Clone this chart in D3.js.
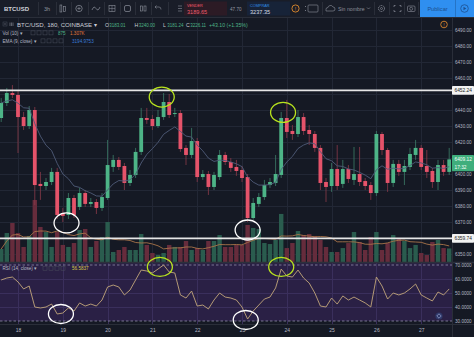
<!DOCTYPE html>
<html><head><meta charset="utf-8">
<script src="https://cdn.jsdelivr.net/npm/d3@7"></script>
<style>
html,body{margin:0;padding:0;background:#151924;overflow:hidden;}
svg{display:block;font-family:"Liberation Sans",Arial,sans-serif;}
</style></head><body>
<svg id="c" width="474" height="337"></svg>
<script>
// ---------- DATA (BTC/USD, 180 min, COINBASE) ----------
const startTime = new Date(2018, 9, 17, 15, 0);
const barHours = 3;
const openP = [6435.0,6444.4,6450.6,6449.4,6435.6,6430.0,6440.0,6393.8,6392.5,6395.0,
 6401.3,6375.6,6374.4,6385.0,6379.4,6388.1,6381.3,6382.5,6378.8,6385.0,
 6404.4,6408.8,6405.0,6394.4,6399.4,6413.8,6435.0,6434.4,6430.0,6435.6,
 6445.0,6437.5,6438.1,6416.3,6411.9,6420.6,6398.1,6400.0,6391.9,6398.1,
 6411.9,6407.5,6404.4,6402.5,6398.1,6372.5,6381.3,6385.6,6393.1,6394.4,
 6399.4,6435.0,6426.9,6425.0,6435.6,6427.5,6425.0,6416.3,6395.0,6392.5,
 6403.1,6393.8,6403.1,6396.3,6400.0,6395.6,6393.1,6388.1,6425.0,6415.0,
 6394.4,6406.3,6401.3,6404.4,6411.9,6416.3,6405.0,6401.9,6395.0,6405.6,
 6401.3];
const highP = [6447.5,6453.8,6455.6,6452.5,6438.8,6442.5,6441.9,6401.3,6397.5,6403.8,
 6403.8,6378.8,6388.1,6386.9,6391.3,6390.0,6385.0,6384.4,6388.1,6421.3,
 6411.9,6410.6,6406.9,6402.5,6416.3,6441.3,6441.3,6436.9,6440.0,6450.6,
 6450.0,6441.3,6440.0,6418.1,6428.8,6422.5,6402.5,6401.9,6401.3,6415.0,
 6413.8,6410.0,6408.8,6405.0,6400.0,6385.0,6388.1,6396.3,6397.5,6411.9,
 6438.8,6446.3,6430.6,6440.0,6438.1,6430.6,6426.9,6418.1,6397.5,6406.9,
 6418.1,6408.8,6405.6,6416.9,6416.9,6397.5,6395.0,6426.9,6426.3,6416.3,
 6408.8,6408.8,6408.8,6416.3,6421.3,6418.1,6415.0,6403.8,6408.8,6408.8,
 6416.3];
const lowP = [6432.5,6442.5,6447.5,6413.1,6427.5,6428.1,6380.6,6383.8,6390.0,6393.1,
 6371.9,6370.0,6371.9,6372.5,6377.5,6379.4,6379.4,6375.0,6376.9,6383.8,
 6401.3,6402.5,6390.0,6392.5,6397.5,6411.9,6431.3,6427.5,6428.8,6433.8,
 6435.0,6435.6,6413.8,6405.6,6410.0,6395.0,6396.3,6386.9,6390.0,6396.3,
 6405.6,6401.3,6398.8,6395.0,6370.0,6371.3,6379.4,6383.8,6391.3,6392.5,
 6397.5,6422.5,6421.3,6423.1,6424.4,6418.1,6413.8,6390.0,6382.5,6388.8,
 6390.0,6391.3,6394.4,6393.1,6392.5,6390.0,6383.8,6386.3,6411.9,6388.8,
 6391.9,6398.8,6393.1,6402.5,6408.8,6402.5,6397.5,6391.3,6390.0,6398.8,
 6399.4];
const closeP = [6444.4,6450.6,6449.4,6435.6,6430.0,6440.0,6393.1,6392.5,6395.0,6401.3,
 6374.4,6373.8,6385.0,6374.4,6388.1,6381.3,6382.5,6378.8,6385.6,6405.6,
 6408.8,6404.4,6394.4,6399.4,6413.8,6435.0,6433.8,6430.0,6435.6,6445.0,
 6436.9,6438.1,6415.6,6411.9,6420.6,6398.1,6400.0,6391.9,6399.4,6411.9,
 6407.5,6403.8,6401.9,6397.5,6372.5,6381.9,6385.6,6393.1,6395.0,6400.0,
 6435.0,6426.3,6425.0,6435.6,6426.9,6425.0,6416.3,6394.4,6391.9,6403.1,
 6392.5,6403.1,6396.9,6400.0,6395.0,6392.5,6388.1,6425.0,6415.0,6394.4,
 6406.3,6401.3,6405.0,6412.5,6416.3,6404.4,6401.3,6395.0,6405.6,6401.3,
 6409.12];
const volume = [840,1870,2515,1870,970,1680,4000,2260,1935,970,
 1935,1100,970,1225,2065,2130,970,1355,1610,2580,
 645,775,970,775,775,1805,1100,580,450,580,
 1100,970,970,1355,775,900,775,1355,1355,1740,
 970,970,1100,1100,2390,2195,2130,1225,1160,1420,
 3100,900,1225,2000,1740,1805,1680,1420,970,645,
 645,900,1225,1935,1290,775,1610,1935,775,1225,
 1740,1485,1355,900,1100,580,450,1290,1420,900,
 875];
const rsi = [59.3,60.7,61.4,57.9,52.9,55.0,40.0,39.3,40.0,42.1,
 35.0,35.7,39.3,37.1,42.9,40.7,42.1,40.7,45.0,54.3,
 55.7,54.3,48.6,52.1,59.3,66.4,65.7,64.3,67.1,70.0,
 65.0,64.3,48.6,46.4,51.4,40.7,41.4,38.6,45.0,50.0,
 47.1,46.4,45.0,40.0,31.4,37.1,41.4,45.7,47.1,53.6,
 67.1,62.1,61.4,66.4,60.7,57.1,50.0,40.7,40.0,46.4,
 42.1,47.9,45.0,47.1,45.0,42.9,40.0,61.4,55.0,45.7,
 50.0,48.6,50.0,52.9,56.4,48.6,46.4,44.3,50.7,48.6,
 52.9];
const priceGrid = [6490,6480,6470,6460,6450,6440,6430,6420,6410,6400,6390,6380,6370,6360,6350];
const priceTicks = [6490,6480,6470,6460,6440,6430,6420,6400,6390,6380,6370,6350];
const rsiTicks = [70,60,50,40,30];
const hLines = [6452.24, 6359.74];
const lastPrice = 6409.12, countdown = "17:32";
// hand-drawn ellipses: [bar index, value, colour]
const marksMain = [[28.7,6448.1,"#b8e31e"],[50.4,6438.5,"#b8e31e"],[11.8,6369.4,"#ffffff"],[44.2,6365.0,"#ffffff"]];
const marksRsi = [[28.6,68.6,"#b8e31e"],[50.3,68.6,"#b8e31e"],[10.9,35.0,"#ffffff"],[43.9,30.7,"#ffffff"]];

// ---------- SETUP ----------
const W=474,H=337, plotR=452, paneTop=17, paneBot=262, rsiBot=324;
const svg=d3.select("#c");
const times=openP.map((d,i)=>d3.timeHour.offset(startTime,i*barHours));
const x=d3.scaleTime().domain([times[0],times[times.length-1]]).range([1.2,449.2]);
const xi=i=>x(d3.timeHour.offset(startTime,i*barHours));
const y=d3.scaleLinear().domain([6350,6490]).range([254,30]);
const yv=d3.scaleLinear().domain([0,4000]).range([paneBot,200]);
const yr=d3.scaleLinear().domain([30,70]).range([321,265]);
const UP="#4db487", DN="#e5536a";

svg.append("rect").attr("width",W).attr("height",H).attr("fill","#151924");
const defs=svg.append("defs");
defs.append("clipPath").attr("id","cm").append("rect").attr("x",0).attr("y",paneTop).attr("width",plotR).attr("height",paneBot-paneTop);
defs.append("clipPath").attr("id","cr").append("rect").attr("x",0).attr("y",paneBot).attr("width",plotR).attr("height",rsiBot-paneBot);

// RSI band fill
svg.append("rect").attr("x",0).attr("y",paneBot+1).attr("width",plotR).attr("height",yr(30)-paneBot-1).attr("fill","#2a2045");

// grid
const grid=svg.append("g").attr("stroke","#222735").attr("stroke-width",1);
const days=d3.timeDay.range(d3.timeDay.ceil(times[0]),d3.timeDay.offset(d3.timeDay.floor(times[times.length-1]),1));
grid.selectAll("line.v").data(days).join("line").attr("x1",d=>Math.round(x(d))+0.5).attr("x2",d=>Math.round(x(d))+0.5).attr("y1",paneTop).attr("y2",paneBot);
grid.selectAll("line.h").data(priceGrid).join("line").attr("x1",0).attr("x2",plotR).attr("y1",d=>Math.round(y(d))+0.5).attr("y2",d=>Math.round(y(d))+0.5);
const rgrid=svg.append("g").attr("stroke","#3a2f5c").attr("stroke-width",1);
rgrid.selectAll("line").data(days).join("line").attr("x1",d=>Math.round(x(d))+0.5).attr("x2",d=>Math.round(x(d))+0.5).attr("y1",paneBot).attr("y2",rsiBot);
rgrid.selectAll("line.h").data([60,50,40]).join("line").attr("x1",0).attr("x2",plotR).attr("y1",d=>Math.round(yr(d))+0.5).attr("y2",d=>Math.round(yr(d))+0.5);

// main pane
const main=svg.append("g").attr("clip-path","url(#cm)");
main.selectAll("rect.vol").data(volume).join("rect")
  .attr("x",(d,i)=>xi(i)-2.2).attr("width",4.4)
  .attr("y",d=>yv(d)).attr("height",d=>paneBot-yv(d))
  .attr("fill",(d,i)=>closeP[i]>=openP[i]?"#2a5c4e":"#662c3c");
// volume MA(10)
const volMA=volume.map((d,i)=>d3.mean(volume.slice(Math.max(0,i-9),i+1)));
main.append("path").datum(volMA).attr("fill","none").attr("stroke","#a8744a").attr("stroke-width",0.9)
  .attr("d",d3.line().x((d,i)=>xi(i)).y(d=>yv(d)));
// EMA(9)
const ema=[]; const k=2/10;
closeP.forEach((c,i)=>ema.push(i===0?c:c*k+ema[i-1]*(1-k)));
// candles
const cg=main.append("g");
cg.selectAll("line").data(openP).join("line")
  .attr("x1",(d,i)=>xi(i)).attr("x2",(d,i)=>xi(i))
  .attr("y1",(d,i)=>y(highP[i])).attr("y2",(d,i)=>y(lowP[i]))
  .attr("stroke",(d,i)=>closeP[i]>=openP[i]?"#3e7d68":"#8c3a4a").attr("stroke-width",0.8);
cg.selectAll("rect").data(openP).join("rect")
  .attr("x",(d,i)=>xi(i)-1.9).attr("width",3.8)
  .attr("y",(d,i)=>y(Math.max(openP[i],closeP[i])))
  .attr("height",(d,i)=>Math.max(1,Math.abs(y(openP[i])-y(closeP[i]))))
  .attr("fill",(d,i)=>closeP[i]>=openP[i]?UP:DN);
main.append("path").datum(ema).attr("fill","none").attr("stroke","#4f5b78").attr("stroke-width",0.9)
  .attr("d",d3.line().x((d,i)=>xi(i)).y(d=>y(d)));
// horizontal lines
main.selectAll("line.hl").data(hLines).join("line").attr("x1",0).attr("x2",plotR)
  .attr("y1",d=>y(d)).attr("y2",d=>y(d)).attr("stroke","#e6e6e6").attr("stroke-width",1.8);
// alert icon
main.append("circle").attr("cx",444).attr("cy",24.5).attr("r",3.3).attr("fill","none").attr("stroke","#d5832e").attr("stroke-width",0.9);
main.append("text").attr("x",444).attr("y",26.6).attr("text-anchor","middle").attr("font-size",5).attr("fill","#d5832e").text("!");

// RSI pane
const rp=svg.append("g").attr("clip-path","url(#cr)");
rp.selectAll("line.d").data([70,30]).join("line").attr("x1",0).attr("x2",plotR)
  .attr("y1",d=>yr(d)).attr("y2",d=>yr(d)).attr("stroke","#8f8aa8").attr("stroke-width",0.8).attr("stroke-dasharray","2.5,2");
rp.append("path").datum(rsi).attr("fill","none").attr("stroke","#c2a67a").attr("stroke-width",0.9)
  .attr("d",d3.line().x((d,i)=>xi(i)).y(d=>yr(d)));
rp.append("circle").attr("cx",439).attr("cy",316).attr("r",3.6).attr("fill","#2e3768");
rp.append("path").attr("d","M439,313.8L441.2,316L439,318.2L436.8,316Z").attr("fill","none").attr("stroke","#aeb6e0").attr("stroke-width",0.6);

// separators
svg.append("line").attr("x1",0).attr("x2",W).attr("y1",paneBot+0.5).attr("y2",paneBot+0.5).attr("stroke","#2c303c").attr("stroke-width",1.5);
svg.append("line").attr("x1",0).attr("x2",W).attr("y1",rsiBot+0.5).attr("y2",rsiBot+0.5).attr("stroke","#2a2e39");
svg.append("line").attr("x1",plotR+0.5).attr("x2",plotR+0.5).attr("y1",paneTop).attr("y2",H).attr("stroke","#2a2e39");

// ellipses drawn on top, unclipped
const eg=svg.append("g").attr("fill","none").attr("stroke-width",1.3);
eg.selectAll("ellipse.m").data(marksMain).join("ellipse")
  .attr("cx",d=>xi(d[0])).attr("cy",d=>y(d[1])).attr("rx",12.5).attr("ry",10).attr("stroke",d=>d[2]);
eg.selectAll("ellipse.r").data(marksRsi).join("ellipse")
  .attr("cx",d=>xi(d[0])).attr("cy",d=>yr(d[1])).attr("rx",12.5).attr("ry",9.5).attr("stroke",d=>d[2]);

// axes
const pa=svg.append("g").attr("transform",`translate(${plotR+2},0)`)
  .call(d3.axisRight(y).tickValues(priceTicks).tickFormat(d3.format(".2f")).tickSize(0).tickPadding(1));
const ra=svg.append("g").attr("transform",`translate(${plotR+2},0)`)
  .call(d3.axisRight(yr).tickValues(rsiTicks).tickFormat(d3.format(".4f")).tickSize(0).tickPadding(1));
const xa=svg.append("g").attr("transform",`translate(0,${rsiBot})`)
  .call(d3.axisBottom(x).ticks(d3.timeDay.every(1)).tickFormat(d3.timeFormat("%d")).tickSize(0).tickPadding(4));
[pa,ra,xa].forEach(g=>{g.select(".domain").remove();g.attr("font-size",4.6).attr("font-family","Liberation Sans, Arial, sans-serif").style("color","#b4b8c4");});
xa.attr("font-size",5);

// price labels
function tag(v,bg,fg,txt,dy){
  const yy=y(v)+(dy||0);
  svg.append("rect").attr("x",plotR).attr("y",yy-4.3).attr("width",W-plotR).attr("height",8.6).attr("fill",bg).attr("rx",0.8);
  svg.append("text").attr("x",plotR+2.5).attr("y",yy+1.7).attr("font-size",4.8).attr("fill",fg).text(txt);
}
tag(hLines[0],"#f2f2f2","#222",d3.format(".2f")(hLines[0]));
tag(hLines[1],"#f2f2f2","#222",d3.format(".2f")(hLines[1]));
tag(lastPrice,"#3fae7c","#f4fff9",d3.format(".2f")(lastPrice));
tag(lastPrice,"#3fae7c","#f4fff9",countdown,7.6);

// ---------- TOOLBAR ----------
const tb=svg.append("g").attr("font-family","Liberation Sans, Arial, sans-serif");
tb.append("rect").attr("width",W).attr("height",paneTop).attr("fill","#191d28");
tb.append("line").attr("x1",0).attr("x2",W).attr("y1",paneTop+0.5).attr("y2",paneTop+0.5).attr("stroke","#2a2e39");
tb.append("text").attr("x",4).attr("y",10.8).attr("font-size",6).attr("font-weight","bold").attr("fill","#d1d4dc").text("BTCUSD");
[38,56,71,88,104,120,135,151,168].forEach(sx=>tb.append("line").attr("x1",sx+0.5).attr("x2",sx+0.5).attr("y1",2).attr("y2",15).attr("stroke","#2a2e39"));
const ic="#8d919c";
tb.append("text").attr("x",47).attr("y",10.5).attr("text-anchor","middle").attr("font-size",5.5).attr("fill",ic).text("3h");
tb.append("rect").attr("x",60).attr("y",5).attr("width",1.8).attr("height",7).attr("fill","none").attr("stroke",ic).attr("stroke-width",0.6);
tb.append("rect").attr("x",63.5).attr("y",6.5).attr("width",1.8).attr("height",5).attr("fill","none").attr("stroke",ic).attr("stroke-width",0.6);
tb.append("circle").attr("cx",79).attr("cy",8.5).attr("r",3.2).attr("fill","none").attr("stroke",ic).attr("stroke-width",0.7);
tb.append("path").attr("d","M77.3,8.5H80.7M79,6.8V10.2").attr("stroke",ic).attr("stroke-width",0.6);
tb.append("path").attr("d","M92,10 Q94,5 96,8.5 T100,7").attr("fill","none").attr("stroke",ic).attr("stroke-width",0.7);
tb.append("rect").attr("x",109).attr("y",5.5).attr("width",6).attr("height",6).attr("fill","none").attr("stroke",ic).attr("stroke-width",0.6);
tb.append("path").attr("d","M109,8.5H115M112,5.5V11.5").attr("stroke",ic).attr("stroke-width",0.5);
tb.append("rect").attr("x",124.5).attr("y",5.5).attr("width",6).attr("height",6).attr("rx",1.5).attr("fill","none").attr("stroke",ic).attr("stroke-width",0.7);
tb.append("rect").attr("x",140.5).attr("y",6).attr("width",2).attr("height",5).attr("fill","none").attr("stroke",ic).attr("stroke-width",0.6);
tb.append("rect").attr("x",144).attr("y",6).attr("width",2).attr("height",5).attr("fill","none").attr("stroke",ic).attr("stroke-width",0.6);
tb.append("path").attr("d","M155,7 H159 Q161,7 161,9.5 M155,7 L156.5,5.5 M155,7 L156.5,8.5").attr("fill","none").attr("stroke",ic).attr("stroke-width",0.6);
tb.append("path").attr("d","M178,6H182M178,8.5H182M178,11H182").attr("stroke",ic).attr("stroke-width",0.6);
tb.append("rect").attr("x",184).attr("y",1.5).attr("width",43).attr("height",14).attr("fill","#2c1b25");
tb.append("text").attr("x",187).attr("y",6.5).attr("font-size",3.8).attr("fill","#ef5a6c").text("VENDER");
tb.append("text").attr("x",187).attr("y",13.8).attr("font-size",5.6).attr("fill","#ef5a6c").text("3189.65");
tb.append("text").attr("x",230).attr("y",10.6).attr("font-size",4.6).attr("fill","#9598a1").text("47.70");
tb.append("rect").attr("x",247).attr("y",1.5).attr("width",43).attr("height",14).attr("fill","#172338");
tb.append("text").attr("x",250).attr("y",6.5).attr("font-size",3.8).attr("fill","#2f8fe8").text("COMPRAR");
tb.append("text").attr("x",250).attr("y",13.8).attr("font-size",5.6).attr("fill","#d8dbe2").text("3237.35");
tb.append("circle").attr("cx",295.5).attr("cy",8.5).attr("r",3.6).attr("fill","none").attr("stroke","#e08a2c").attr("stroke-width",0.9);
tb.append("text").attr("x",295.5).attr("y",10.6).attr("text-anchor","middle").attr("font-size",5).attr("fill","#e08a2c").text("!");
tb.append("path").attr("d","M305.5,6V7M305.5,10V11").attr("stroke",ic).attr("stroke-width",0.8);
tb.append("rect").attr("x",308).attr("y",5).attr("width",10).attr("height",7).attr("rx",1).attr("fill","none").attr("stroke",ic).attr("stroke-width",0.6);
tb.append("line").attr("x1",322.5).attr("x2",322.5).attr("y1",2).attr("y2",15).attr("stroke","#2a2e39");
tb.append("path").attr("d","M326,11 H333 Q335,11 335,9 Q335,7 333,7 Q332,5 330,5.5 Q328,6 328,7.5 Q326,7.5 326,9.3 Z").attr("fill","none").attr("stroke",ic).attr("stroke-width",0.6);
tb.append("text").attr("x",338).attr("y",10.6).attr("font-size",5.2).attr("fill","#8d919c").text("Sin nombre");
tb.append("path").attr("d","M367,7.5L368.5,9L370,7.5").attr("fill","none").attr("stroke",ic).attr("stroke-width",0.6);
[374,389,404,418].forEach(sx=>tb.append("line").attr("x1",sx+0.5).attr("x2",sx+0.5).attr("y1",2).attr("y2",15).attr("stroke","#2a2e39"));
tb.append("circle").attr("cx",381.5).attr("cy",8.5).attr("r",3).attr("fill","none").attr("stroke",ic).attr("stroke-width",0.9).attr("stroke-dasharray","1.2,0.7");
tb.append("circle").attr("cx",381.5).attr("cy",8.5).attr("r",1).attr("fill","none").attr("stroke",ic).attr("stroke-width",0.6);
tb.append("path").attr("d","M394,7V5.5H395.5M399.5,5.5H401V7M401,10V11.5H399.5M395.5,11.5H394V10").attr("fill","none").attr("stroke",ic).attr("stroke-width",0.7);
tb.append("rect").attr("x",407.5).attr("y",6).attr("width",7.5).attr("height",5.5).attr("rx",1).attr("fill","none").attr("stroke",ic).attr("stroke-width",0.6);
tb.append("circle").attr("cx",411.2).attr("cy",8.8).attr("r",1.5).attr("fill","none").attr("stroke",ic).attr("stroke-width",0.6);
tb.append("rect").attr("x",420).attr("y",0).attr("width",35).attr("height",17).attr("fill","#2f8ff0");
tb.append("text").attr("x",437.5).attr("y",10.8).attr("text-anchor","middle").attr("font-size",5.6).attr("fill","#1d4f8f").text("Publicar");
tb.append("rect").attr("x",455.5).attr("y",0).attr("width",18.5).attr("height",17).attr("fill","#2f8ff0");
tb.append("line").attr("x1",455.5).attr("x2",455.5).attr("y1",0).attr("y2",17).attr("stroke","#2574c6");
tb.append("circle").attr("cx",464.5).attr("cy",8.5).attr("r",3.8).attr("fill","none").attr("stroke","#1d4f8f").attr("stroke-width",0.8);
tb.append("path").attr("d","M463.5,6.7L466.3,8.5L463.5,10.3Z").attr("fill","#1d4f8f");

// ---------- LEGEND ----------
const lg=svg.append("g").attr("font-family","Liberation Sans, Arial, sans-serif");
function box(x0,y0,s){lg.append("rect").attr("x",x0).attr("y",y0).attr("width",s).attr("height",s).attr("fill","none").attr("stroke","#4a4f5c").attr("stroke-width",0.5);}
box(3,22,4); lg.append("line").attr("x1",3.8).attr("x2",6.2).attr("y1",24).attr("y2",24).attr("stroke","#8d919c").attr("stroke-width",0.5);
lg.append("path").attr("d","M10,22.5V26M11.5,22.5V26M13,22.5V26").attr("stroke","#8d919c").attr("stroke-width",0.6);
lg.append("text").attr("x",17).attr("y",26.6).attr("font-size",6.1).attr("fill","#c9ccd6").text("BTC/USD, 180, COINBASE ▾");
const ohlc=[["O",105,"3183.01"],["H",134.5,"3240.00"],["L",163,"3181.24"],["C",186,"3226.11"]];
ohlc.forEach(o=>{lg.append("text").attr("x",o[1]).attr("y",26.6).attr("font-size",5.2).attr("fill","#c9ccd6").text(o[0]);
  lg.append("text").attr("x",o[1]+4.2).attr("y",26.6).attr("font-size",4.5).attr("fill","#4db487").text(o[2]);});
lg.append("text").attr("x",209).attr("y",26.6).attr("font-size",5.2).attr("fill","#4db487").text("+43.10 (+1.35%)");
function ind(yy,label,bx,vals){
  lg.append("text").attr("x",2.5).attr("y",yy).attr("font-size",4.6).attr("fill","#b4b8c4").text(label);
  for(let j=0;j<4;j++) box(bx+j*6,yy-3.6,4);
  vals.forEach(v=>lg.append("text").attr("x",v[0]).attr("y",yy).attr("font-size",4.6).attr("fill",v[2]).text(v[1]));
}
ind(34.5,"Vol (10) ▾",31,[[58,"875","#4db487"],[70,"1.307K","#e2783a"]]);
ind(42.5,"EMA (9, close) ▾",41,[[72,"3194.9753","#3a7bd5"]]);
ind(269.8,"RSI (14, close) ▾",43,[[72,"56.5837","#d8c64a"]]);
</script>
</body></html>
